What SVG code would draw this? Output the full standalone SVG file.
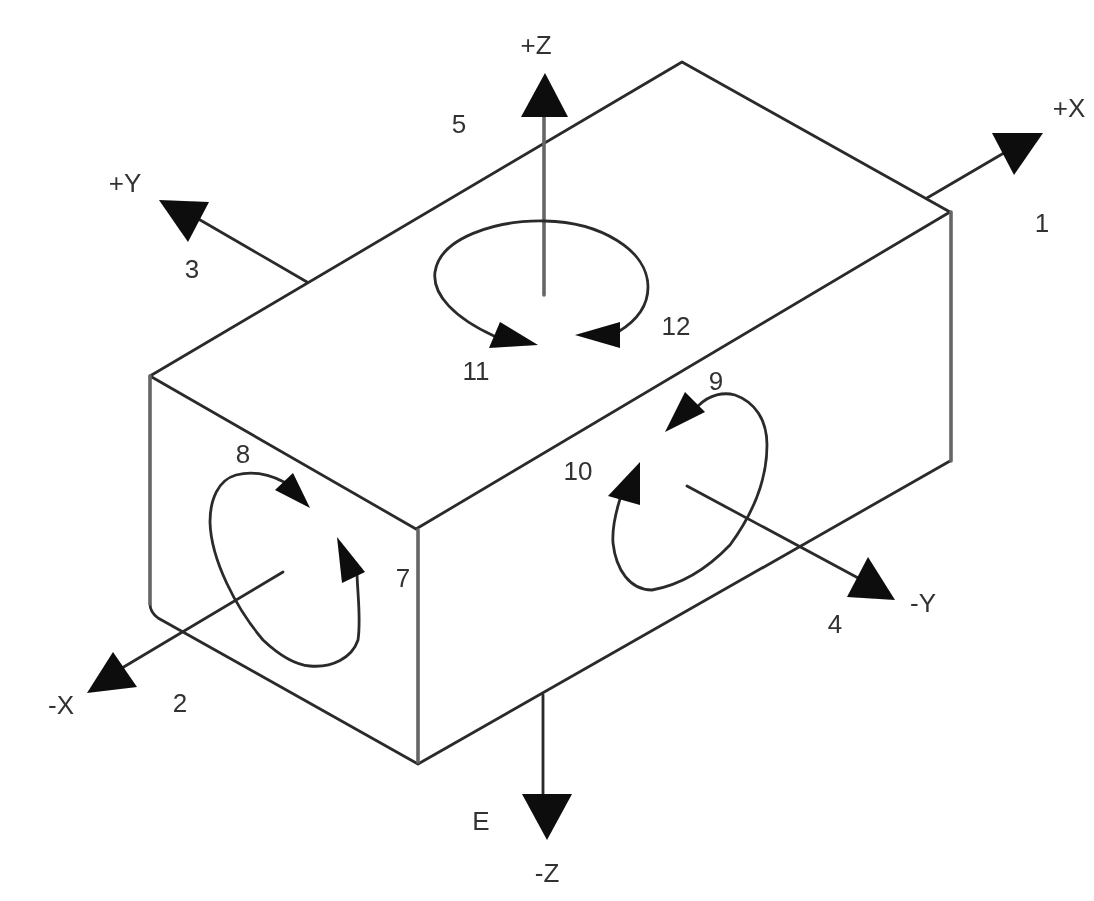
<svg xmlns="http://www.w3.org/2000/svg" width="1094" height="901" viewBox="0 0 1094 901">
<style>
.l{fill:none;stroke:#2a2a2a;stroke-width:2.8;stroke-linecap:round;stroke-linejoin:round}
.v{fill:none;stroke:#666;stroke-width:3.6;stroke-linecap:round}
.a{fill:#0a0a0a}
.t{font-family:"Liberation Sans",Arial,sans-serif;font-size:26px;fill:#333;text-anchor:middle}
</style>
<defs><filter id="soft" x="0" y="0" width="100%" height="100%"><feGaussianBlur stdDeviation="0.7"/></filter></defs>
<rect width="1094" height="901" fill="#fff"/>
<g filter="url(#soft)">
<g id="box">
<path class="l" d="M150 376L682 62L950 212L416 529Z"/>
<path class="l" d="M150 604Q150 612 158 618L418 764L950 461"/>
<path class="v" d="M150 376V604M418 530V762M951 212V461"/>
</g>
<g id="connectors">
<path class="v" d="M544 295V115"/>
<path class="a" d="M545 73L568 117H521Z"/>
<path class="l" d="M927 198L1009 150"/>
<path class="a" d="M992 133H1043L1014 175Z"/>
<path class="l" d="M307 282L195 217"/>
<path class="a" d="M159 200L209 202L188 242Z"/>
<path class="l" d="M687 486L860 579"/>
<path class="a" d="M868 557L895 600L847 597Z"/>
<path class="l" d="M283 572L122 668"/>
<path class="a" d="M113 652L137 687L87 693Z"/>
<path class="l" d="M543 695V800"/>
<path class="a" d="M547 840L522 794H572Z"/>
<path class="l" d="M494 336C455 318 432 295 435 272C440 238 495 220 545 221C600 222 648 250 648 287C648 305 638 320 618 332"/>
<path class="a" d="M500 322L538 345L489 348Z"/>
<path class="a" d="M620 322L575 335L620 348Z"/>
<path class="l" d="M284 482C265 472 248 472 236 475C218 480 210 500 210 522C211 560 236 608 263 640C280 656 296 665 310 666C332 668 352 658 358 640C361 620 358 600 357 574"/>
<path class="a" d="M293 473L310 508L275 490Z"/>
<path class="a" d="M337 537L365 572L342 583Z"/>
<path class="l" d="M698 406C710 394 724 392 735 395C755 402 767 420 767 445C767 480 752 515 730 545C706 570 680 585 652 590C630 590 616 570 613 543C612 528 615 515 620 499"/>
<path class="a" d="M685 392L705 412L665 432Z"/>
<path class="a" d="M640 462V505L608 496Z"/>
</g>
<g id="labels">
<text class="t" x="536" y="54">+Z</text>
<text class="t" x="459" y="133">5</text>
<text class="t" x="1069" y="117">+X</text>
<text class="t" x="1042" y="232">1</text>
<text class="t" x="125" y="192">+Y</text>
<text class="t" x="192" y="278">3</text>
<text class="t" x="676" y="335">12</text>
<text class="t" x="476" y="380">11</text>
<text class="t" x="716" y="390">9</text>
<text class="t" x="578" y="480">10</text>
<text class="t" x="243" y="463">8</text>
<text class="t" x="403" y="587">7</text>
<text class="t" x="835" y="633">4</text>
<text class="t" x="923" y="612">-Y</text>
<text class="t" x="61" y="714">-X</text>
<text class="t" x="180" y="712">2</text>
<text class="t" x="481" y="830">E</text>
<text class="t" x="547" y="882">-Z</text>
</g>
</g>
</svg>
